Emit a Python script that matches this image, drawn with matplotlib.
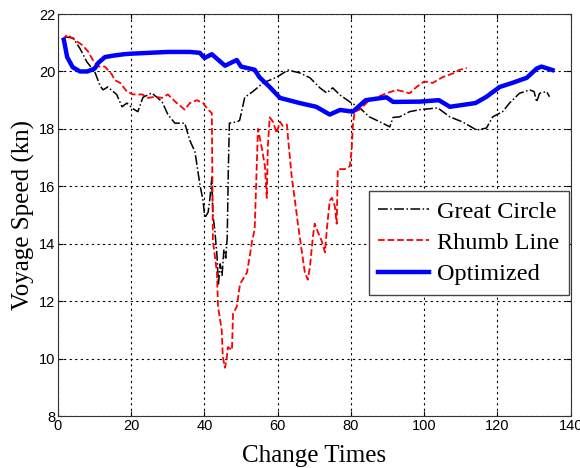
import matplotlib.pyplot as plt

# great circle route speed
gc_x = [1.9, 4.1, 6, 7.9, 10, 11.5, 12.3, 13.6, 16, 17.5, 18.8, 20.5, 21.8, 23.2, 25.6,
        28.4, 30, 31.9, 34.6, 36, 37.4, 38.7, 39.6, 40.1, 41, 41.5, 42, 42.3, 42.8, 43.4,
        43.8, 44.3, 44.8, 45.3, 45.8, 46.2, 46.5, 46.8, 49, 49.6, 51, 53.2, 56, 59.7,
        62.8, 66, 68.8, 71.5, 73.4, 75, 77, 79.7, 82.4, 85, 88, 90.6, 91.5, 93.3, 96,
        98.8, 103.7, 107, 110.5, 114.3, 117, 118.7, 121.4, 123.3, 126, 128.8, 130,
        130.7, 131.5, 133.4, 134.2]
gc_y = [21.2, 21.17, 20.8, 20.33, 20.0, 19.5, 19.36, 19.46, 19.2, 18.77, 18.9, 18.7, 18.6,
        19.1, 19.25, 18.95, 18.5, 18.2, 18.2, 17.6, 17.2, 16.1, 15.5, 14.9, 15.1, 15.6,
        16.3, 15.0, 14.5, 13.6, 12.6, 13.3, 12.9, 13.8, 13.5, 14.2, 16.5, 18.2, 18.25,
        18.3, 19.1, 19.3, 19.6, 19.8, 20.05, 19.95, 19.78, 19.43, 19.25, 19.43, 19.18,
        18.94, 18.73, 18.42, 18.24, 18.07, 18.4, 18.42, 18.6, 18.67, 18.73, 18.42, 18.24,
        17.96, 18.03, 18.42, 18.6, 18.9, 19.24, 19.36, 19.3, 18.94, 19.24, 19.3, 19.12]

# rhumb line route speed
rl_x = [1.1, 2.5, 4.6, 6.5, 8.2, 9.5, 11, 12.8, 14.7, 15.5, 17, 18.8, 20.5, 23, 24.6,
        26.5, 28.4, 30, 32, 34.6, 36, 37.9, 39.6, 41, 42, 42.3, 43.4, 43.7, 44.7, 45,
        45.6, 46, 46.4, 47.5, 47.8, 48.8, 49.7, 51.6, 52.4, 53, 53.7, 54.6, 55.7, 56.5,
        57, 57.3, 57.8, 58.7, 59.7, 60.6, 61.4, 62.5, 62.8, 63.8, 64.7, 65.5, 66.5, 67.4,
        68.2, 68.8, 69.6, 70.1, 71, 72, 72.9, 73.4, 74.2, 74.8, 75.6, 76.1, 76.4, 78.3,
        79.7, 80.2, 80.5, 81, 82.4, 85, 87, 89.7, 92.5, 96, 98, 100, 102.3, 105, 107.8,
        109.7, 111.6]
rl_y = [21.1, 21.28, 21.1, 20.93, 20.7, 20.4, 20.17, 20.17, 19.9, 19.7, 19.6, 19.3, 19.2,
        19.2, 19.08, 19.12, 19.08, 19.2, 18.95, 18.67, 18.9, 19.0, 18.9, 18.67, 18.55,
        14.1, 13.0, 11.8, 11.0, 10.06, 9.68, 9.95, 10.4, 10.3, 11.57, 11.8, 12.6, 13.0,
        13.6, 14.1, 14.5, 18.0, 17.3, 16.7, 15.6, 17.4, 18.4, 18.25, 17.85, 18.25, 18.1,
        18.15, 17.7, 16.35, 15.5, 14.7, 13.8, 13.0, 12.75, 13.2, 14.25, 14.7, 14.4, 14.1,
        13.7, 14.5, 15.5, 15.6, 15.3, 14.7, 16.6, 16.6, 16.7, 17.3, 18.1, 18.6, 18.67,
        19.0, 19.1, 19.24, 19.36, 19.24, 19.47, 19.65, 19.6, 19.8, 19.93, 20.06, 20.12]

# optimized route speed
op_x = [1.6, 2.5, 4, 6, 8, 10, 11, 12.8, 15, 18, 20, 25, 30, 32, 36, 38.7, 40, 42, 45.6,
        48.8, 50, 53.7, 55, 57.8, 60.6, 66, 70.5, 74.2, 77, 80.5, 84, 89.7, 91.5, 98.8,
        104, 107, 114, 117, 120.6, 124, 128, 130.7, 132, 135]
op_y = [21.1, 20.5, 20.15, 20.0, 20.0, 20.1, 20.3, 20.5, 20.55, 20.6, 20.62, 20.65, 20.68,
        20.68, 20.68, 20.65, 20.47, 20.6, 20.2, 20.4, 20.17, 20.06, 19.8, 19.46, 19.08,
        18.9, 18.77, 18.5, 18.66, 18.6, 19.0, 19.1, 18.94, 18.95, 19.0, 18.77, 18.9,
        19.12, 19.46, 19.6, 19.78, 20.1, 20.17, 20.05]

fig = plt.figure(figsize=(5.8, 4.68), dpi=100)
ax = fig.add_axes([0.1, 0.111, 0.884, 0.859])

ax.plot(gc_x, gc_y, color="black", linestyle="-.", linewidth=1.1, label="Great Circle")
ax.plot(rl_x, rl_y, color="red", linestyle="--", linewidth=1.3, label="Rhumb Line")
ax.plot(op_x, op_y, color="blue", linestyle="-", linewidth=3.2, label="Optimized")

ax.set_xlim(0, 140)
ax.set_ylim(8, 22)
ax.set_xticks(range(0, 141, 20))
ax.set_yticks(range(8, 23, 2))
ax.grid(True, color="black", linestyle=(0, (2, 3)), linewidth=0.8)
ax.tick_params(direction="in", top=True, right=True, labelsize=10.5, pad=2)
for lab in ax.get_xticklabels() + ax.get_yticklabels():
    lab.set_family("Liberation Sans")
for s in ax.spines.values():
    s.set_color("#333333")

ax.set_xlabel("Change Times", family="Liberation Serif", fontsize=18, labelpad=9)
ax.set_ylabel("Voyage Speed (kn)", family="Liberation Serif", fontsize=18, labelpad=3)

leg = ax.legend(loc="upper right", bbox_to_anchor=(0.996, 0.56), fancybox=False,
                edgecolor="#444444", framealpha=1, handlelength=2.1,
                handletextpad=0.3, borderpad=0.4, borderaxespad=0,
                prop={"family": "Liberation Serif", "size": 17.5},
                labelspacing=0.38)
leg.get_frame().set_linewidth(1.0)

fig.savefig("out.png", dpi=100)
